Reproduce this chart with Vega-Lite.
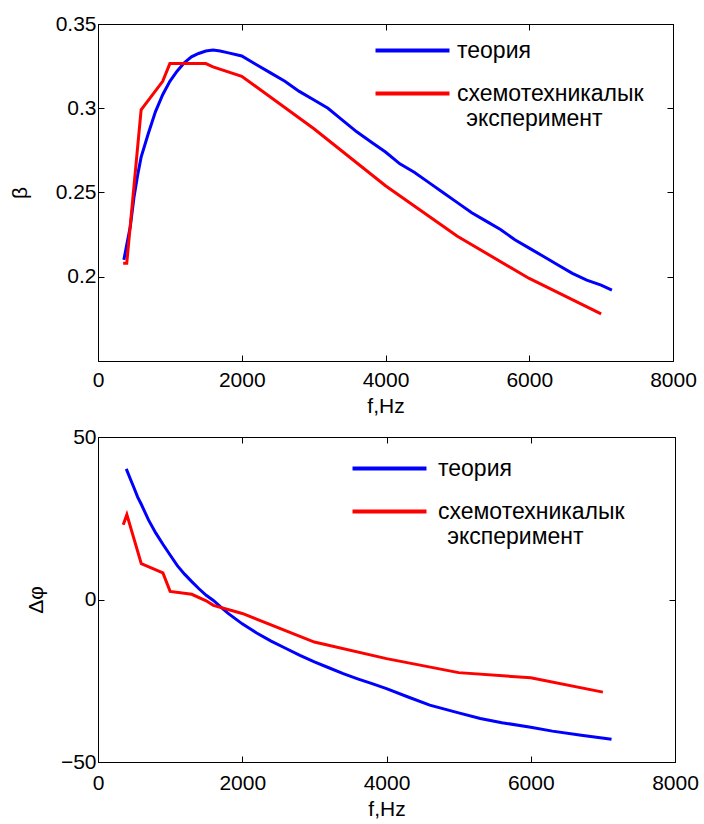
{
  "$schema": "https://vega.github.io/schema/vega-lite/v6.json",
  "padding": {"left": 8, "top": 12, "right": 5, "bottom": 0},
  "background": "white",
  "spacing": 8,
  "resolve": {"scale": {"color": "independent"}},
  "datasets": {
    "beta": [
      {"f": 360, "v": 0.210, "s": "теория"},
      {"f": 400, "v": 0.219, "s": "теория"},
      {"f": 450, "v": 0.230, "s": "теория"},
      {"f": 500, "v": 0.247, "s": "теория"},
      {"f": 550, "v": 0.260, "s": "теория"},
      {"f": 600, "v": 0.271, "s": "теория"},
      {"f": 700, "v": 0.285, "s": "теория"},
      {"f": 800, "v": 0.298, "s": "теория"},
      {"f": 900, "v": 0.308, "s": "теория"},
      {"f": 1000, "v": 0.316, "s": "теория"},
      {"f": 1100, "v": 0.322, "s": "теория"},
      {"f": 1200, "v": 0.327, "s": "теория"},
      {"f": 1300, "v": 0.3305, "s": "теория"},
      {"f": 1400, "v": 0.3325, "s": "теория"},
      {"f": 1500, "v": 0.334, "s": "теория"},
      {"f": 1600, "v": 0.3345, "s": "теория"},
      {"f": 1700, "v": 0.334, "s": "теория"},
      {"f": 1800, "v": 0.333, "s": "теория"},
      {"f": 2000, "v": 0.331, "s": "теория"},
      {"f": 2200, "v": 0.326, "s": "теория"},
      {"f": 2400, "v": 0.321, "s": "теория"},
      {"f": 2600, "v": 0.316, "s": "теория"},
      {"f": 2800, "v": 0.310, "s": "теория"},
      {"f": 3000, "v": 0.305, "s": "теория"},
      {"f": 3200, "v": 0.300, "s": "теория"},
      {"f": 3400, "v": 0.293, "s": "теория"},
      {"f": 3600, "v": 0.286, "s": "теория"},
      {"f": 3800, "v": 0.280, "s": "теория"},
      {"f": 4000, "v": 0.274, "s": "теория"},
      {"f": 4200, "v": 0.267, "s": "теория"},
      {"f": 4400, "v": 0.262, "s": "теория"},
      {"f": 4600, "v": 0.256, "s": "теория"},
      {"f": 4800, "v": 0.250, "s": "теория"},
      {"f": 5000, "v": 0.244, "s": "теория"},
      {"f": 5200, "v": 0.238, "s": "теория"},
      {"f": 5400, "v": 0.233, "s": "теория"},
      {"f": 5600, "v": 0.228, "s": "теория"},
      {"f": 5800, "v": 0.222, "s": "теория"},
      {"f": 6000, "v": 0.217, "s": "теория"},
      {"f": 6200, "v": 0.212, "s": "теория"},
      {"f": 6400, "v": 0.207, "s": "теория"},
      {"f": 6600, "v": 0.202, "s": "теория"},
      {"f": 6800, "v": 0.198, "s": "теория"},
      {"f": 7000, "v": 0.195, "s": "теория"},
      {"f": 7150, "v": 0.192, "s": "теория"},
      {"f": 350, "v": 0.208, "s": "схемотехникалык эксперимент"},
      {"f": 400, "v": 0.208, "s": "схемотехникалык эксперимент"},
      {"f": 600, "v": 0.299, "s": "схемотехникалык эксперимент"},
      {"f": 900, "v": 0.316, "s": "схемотехникалык эксперимент"},
      {"f": 1000, "v": 0.3265, "s": "схемотехникалык эксперимент"},
      {"f": 1500, "v": 0.3265, "s": "схемотехникалык эксперимент"},
      {"f": 1600, "v": 0.3245, "s": "схемотехникалык эксперимент"},
      {"f": 2000, "v": 0.319, "s": "схемотехникалык эксперимент"},
      {"f": 3000, "v": 0.288, "s": "схемотехникалык эксперимент"},
      {"f": 4000, "v": 0.254, "s": "схемотехникалык эксперимент"},
      {"f": 5000, "v": 0.224, "s": "схемотехникалык эксперимент"},
      {"f": 6000, "v": 0.199, "s": "схемотехникалык эксперимент"},
      {"f": 7000, "v": 0.178, "s": "схемотехникалык эксперимент"}
    ],
    "phase": [
      {"f": 392, "v": 40.2, "s": "теория"},
      {"f": 450, "v": 37.0, "s": "теория"},
      {"f": 500, "v": 34.3, "s": "теория"},
      {"f": 550, "v": 31.5, "s": "теория"},
      {"f": 600, "v": 29.3, "s": "теория"},
      {"f": 700, "v": 24.5, "s": "теория"},
      {"f": 800, "v": 20.5, "s": "теория"},
      {"f": 900, "v": 17.0, "s": "теория"},
      {"f": 1000, "v": 13.7, "s": "теория"},
      {"f": 1100, "v": 10.4, "s": "теория"},
      {"f": 1200, "v": 7.8, "s": "теория"},
      {"f": 1300, "v": 5.5, "s": "теория"},
      {"f": 1400, "v": 3.3, "s": "теория"},
      {"f": 1500, "v": 1.3, "s": "теория"},
      {"f": 1600, "v": -0.3, "s": "теория"},
      {"f": 1700, "v": -2.3, "s": "теория"},
      {"f": 1800, "v": -4.2, "s": "теория"},
      {"f": 2000, "v": -7.5, "s": "теория"},
      {"f": 2200, "v": -10.3, "s": "теория"},
      {"f": 2400, "v": -12.8, "s": "теория"},
      {"f": 2600, "v": -15.0, "s": "теория"},
      {"f": 2800, "v": -17.2, "s": "теория"},
      {"f": 3000, "v": -19.2, "s": "теория"},
      {"f": 3200, "v": -21.0, "s": "теория"},
      {"f": 3400, "v": -22.8, "s": "теория"},
      {"f": 3600, "v": -24.4, "s": "теория"},
      {"f": 3800, "v": -25.9, "s": "теория"},
      {"f": 4000, "v": -27.4, "s": "теория"},
      {"f": 4300, "v": -30.0, "s": "теория"},
      {"f": 4600, "v": -32.5, "s": "теория"},
      {"f": 5000, "v": -34.9, "s": "теория"},
      {"f": 5300, "v": -36.6, "s": "теория"},
      {"f": 5600, "v": -37.9, "s": "теория"},
      {"f": 6000, "v": -39.3, "s": "теория"},
      {"f": 6300, "v": -40.5, "s": "теория"},
      {"f": 6700, "v": -41.8, "s": "теория"},
      {"f": 7120, "v": -43.0, "s": "теория"},
      {"f": 350, "v": 23.0, "s": "схемотехникалык эксперимент"},
      {"f": 400, "v": 26.1, "s": "схемотехникалык эксперимент"},
      {"f": 600, "v": 11.0, "s": "схемотехникалык эксперимент"},
      {"f": 900, "v": 8.2, "s": "схемотехникалык эксперимент"},
      {"f": 1000, "v": 2.5, "s": "схемотехникалык эксперимент"},
      {"f": 1300, "v": 1.6, "s": "схемотехникалык эксперимент"},
      {"f": 1500, "v": -0.4, "s": "схемотехникалык эксперимент"},
      {"f": 1600, "v": -1.8, "s": "схемотехникалык эксперимент"},
      {"f": 2000, "v": -4.3, "s": "схемотехникалык эксперимент"},
      {"f": 3000, "v": -13.1, "s": "схемотехникалык эксперимент"},
      {"f": 4000, "v": -18.2, "s": "схемотехникалык эксперимент"},
      {"f": 5000, "v": -22.5, "s": "схемотехникалык эксперимент"},
      {"f": 6000, "v": -24.1, "s": "схемотехникалык эксперимент"},
      {"f": 7000, "v": -28.5, "s": "схемотехникалык эксперимент"}
    ]
  },
  "vconcat": [
    {
      "width": 575,
      "height": 337,
      "data": {"name": "beta"},
      "resolve": {"axis": {"x": "independent", "y": "independent"}},
      "layer": [
        {
          "mark": {"type": "line", "strokeWidth": 3},
          "encoding": {
            "x": {"field": "f", "type": "quantitative", "scale": {"domain": [0, 8000], "nice": false, "zero": false}, "axis": {"values": [0, 2000, 4000, 6000, 8000], "format": "d", "title": "f,Hz", "labelPadding": 14}},
            "y": {"field": "v", "type": "quantitative", "scale": {"domain": [0.15, 0.35], "nice": false, "zero": false}, "axis": {"values": [0.2, 0.25, 0.3, 0.35], "title": "β", "titlePadding": 25, "labelExpr": "datum.value == 0.3 ? '0.3' : datum.value == 0.2 ? '0.2' : format(datum.value, '.2f')"}},
            "color": {"field": "s", "type": "nominal", "sort": null, "scale": {"domain": ["теория", "схемотехникалык эксперимент"], "range": ["#0000ff", "#ff0000"]}, "legend": {"orient": "none", "legendX": 303, "legendY": 15, "labelOffset": 33, "labelExpr": "datum.label == 'теория' ? 'теория' : ['схемотехникалык', '\u200b\u2009\u2009эксперимент']"}}
          }
        },
        {
          "mark": {"type": "line", "opacity": 0},
          "encoding": {
            "x": {"field": "f", "type": "quantitative", "axis": {"orient": "top", "values": [0, 2000, 4000, 6000, 8000], "labels": false, "title": null}},
            "y": {"field": "v", "type": "quantitative", "axis": {"orient": "right", "values": [0.2, 0.25, 0.3, 0.35], "labels": false, "title": null}},
            "detail": {"field": "s"}
          }
        }
      ]
    },
    {
      "width": 577,
      "height": 325,
      "data": {"name": "phase"},
      "resolve": {"axis": {"x": "independent", "y": "independent"}},
      "layer": [
        {
          "mark": {"type": "line", "strokeWidth": 3},
          "encoding": {
            "x": {"field": "f", "type": "quantitative", "scale": {"domain": [0, 8000], "nice": false, "zero": false}, "axis": {"values": [0, 2000, 4000, 6000, 8000], "format": "d", "title": "f,Hz", "labelPadding": 16}},
            "y": {"field": "v", "type": "quantitative", "scale": {"domain": [-50, 50], "nice": false, "zero": false}, "axis": {"values": [-50, 0, 50], "title": "Δφ", "titlePadding": 14}},
            "color": {"field": "s", "type": "nominal", "sort": null, "scale": {"domain": ["теория", "схемотехникалык эксперимент"], "range": ["#0000ff", "#ff0000"]}, "legend": {"orient": "none", "legendX": 280, "legendY": 20, "labelOffset": 37, "labelExpr": "datum.label == 'теория' ? 'теория' : ['схемотехникалык', '\u200b\u2009\u2009эксперимент']"}}
          }
        },
        {
          "mark": {"type": "line", "opacity": 0},
          "encoding": {
            "x": {"field": "f", "type": "quantitative", "axis": {"orient": "top", "values": [0, 2000, 4000, 6000, 8000], "labels": false, "title": null}},
            "y": {"field": "v", "type": "quantitative", "axis": {"orient": "right", "values": [-50, 0, 50], "labels": false, "title": null}},
            "detail": {"field": "s"}
          }
        }
      ]
    }
  ],
  "config": {
    "font": "Liberation Sans",
    "view": {"stroke": "black", "strokeWidth": 1},
    "axis": {
      "grid": false,
      "domainColor": "black",
      "tickColor": "black",
      "tickSize": -6,
      "labelFont": "Liberation Sans",
      "labelFontSize": 21,
      "labelColor": "black",
      "labelPadding": 8,
      "labelFlush": false,
      "labelOverlap": false,
      "titleFont": "Liberation Sans",
      "titleFontSize": 21,
      "titleFontWeight": "normal",
      "titleColor": "black",
      "titlePadding": 8
    },
    "axisX": {"titlePadding": 5},
    "legend": {
      "title": null,
      "symbolType": "M-4,0H4",
      "symbolSize": 342,
      "symbolStrokeWidth": 4,
      "labelFont": "Liberation Sans",
      "labelFontSize": 23,
      "labelColor": "black",
      "labelLimit": 400,
      "labelOffset": 37,
      "rowPadding": 19,
      "padding": 0
    }
  }
}
